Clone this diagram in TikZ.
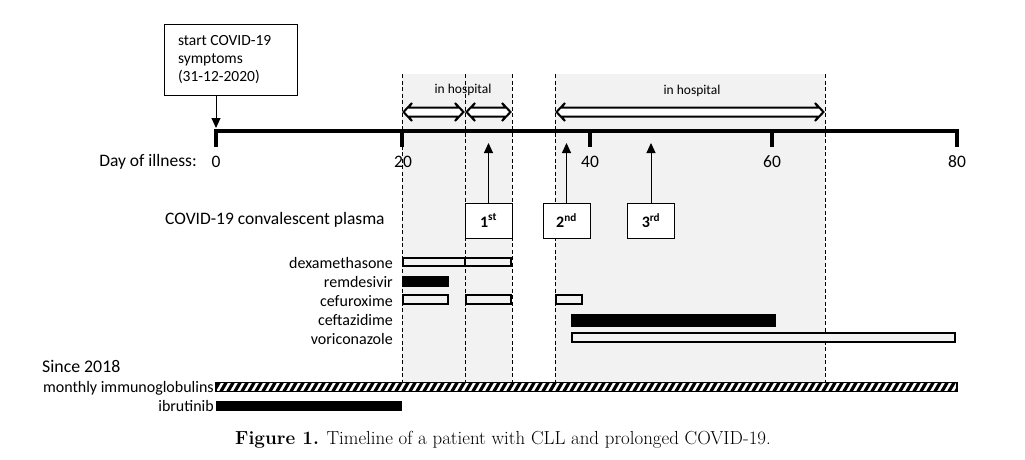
\documentclass[tikz,border=0pt]{standalone}
\usepackage{fontspec}
\newfontfamily\calibri{Carlito}
\usetikzlibrary{arrows.meta}
\begin{document}
\begin{tikzpicture}[x=1pt,y=-1pt,
  lbl/.style={font=\calibri\fontsize{17.5}{20}\selectfont, inner sep=0},
  drug/.style={font=\calibri\fontsize{16}{19}\selectfont, inner sep=0, anchor=east},
  hosplbl/.style={font=\calibri\fontsize{13.5}{16}\selectfont, inner sep=0},
  openbar/.style={draw=black, line width=2pt, fill=gray!10},
  solidbar/.style={fill=black},
  vdash/.style={dash pattern=on 4pt off 2.5pt, line width=0.9pt},
  ccpbox/.style={draw, line width=0.8pt, fill=white, minimum width=47pt, minimum height=35pt, inner sep=0, font=\calibri\bfseries\fontsize{16}{19}\selectfont},
  uparr/.style={line width=1pt, -{Triangle[length=10pt,width=9pt]}},
  hollowarr/.style={draw=black, fill=white, line width=2pt, line join=miter},
  startbox/.style={draw, line width=0.8pt, text width=105pt, align=flush left, inner xsep=14pt, minimum height=71pt, font=\calibri\fontsize{15.5}{18}\selectfont},
  tick/.style={line width=3.5pt}
]
\useasboundingbox (0,0) rectangle (1025,460);
% shading
\fill[gray!10] (402,74) rectangle (512,382);
\fill[gray!10] (555,74) rectangle (825,382);
% dashed lines
\foreach \x in {402,465,512,555,825} \draw[vdash] (\x,74) -- (\x,382);
% hospital arrows (hollow double-headed)
\foreach \a/\b in {402/465,465/512,555/825}
  \draw[hollowarr] (\a+1.5,112) -- (\a+10,103) -- (\a+6.5,107.5) -- (\b-6.5,107.5) -- (\b-10,103) -- (\b-1.5,112)
     -- (\b-10,121) -- (\b-6.5,116.5) -- (\a+6.5,116.5) -- (\a+10,121) -- cycle;
\node[hosplbl] (hl1) at (463,90) {in hospital};
\node[hosplbl] (hl2) at (692,91) {in hospital};
% axis
\coordinate (d0) at (216,131);
\coordinate (d20) at (402,131);
\coordinate (d40) at (590,131);
\coordinate (d60) at (772,131);
\coordinate (d80) at (957,131);
\draw[line width=4.4pt] (d0) -- (d80);
\foreach \x in {216,402,590,772,957} \draw[tick] (\x,129) -- (\x,147);
\node[lbl, anchor=east] (doi) at (197,162) {Day of illness:};
\node[lbl] (l0) at (216,162) {0};
\node[lbl] (l20) at (403,162) {20};
\node[lbl] (l40) at (590,162) {40};
\node[lbl] (l60) at (772,162) {60};
\node[lbl] (l80) at (957,162) {80};
% start box
\node[startbox] (start) at (230.5,59.5) {start COVID-19\\symptoms\\(31-12-2020)};
\coordinate (a0) at (216,128);
\draw[uparr] (start.south -| a0) -- (a0);
% CCP
\node[lbl, anchor=west] (ccp) at (165,220) {COVID-19 convalescent plasma};
\coordinate (tipy) at (0,143);
\node[ccpbox] (p1) at (488.5,220.5) {1\textsuperscript{st}};
\node[ccpbox] (p2) at (566.5,220.5) {2\textsuperscript{nd}};
\node[ccpbox] (p3) at (651,220.5) {3\textsuperscript{rd}};
\draw[uparr] (p1.north) -- (p1.north |- tipy);
\draw[uparr] (p2.north) -- (p2.north |- tipy);
\draw[uparr] (p3.north) -- (p3.north |- tipy);
% drugs
\node[drug] (dex) at (393,263) {dexamethasone};
\node[drug] (rem) at (393,282) {remdesivir};
\node[drug] (cef) at (393,301) {cefuroxime};
\node[drug] (cft) at (393,320) {ceftazidime};
\node[drug] (vor) at (393,339) {voriconazole};
\draw[openbar] (403,258) rectangle (464.5,266);
\draw[openbar] (464.5,258) rectangle (511,266);
\fill[solidbar] (402,276) rectangle (449,287);
\draw[openbar] (403,295) rectangle (448,304);
\draw[openbar] (466,295) rectangle (511,304);
\draw[openbar] (556,295) rectangle (582,304);
\fill[solidbar] (571,314) rectangle (776,327);
\draw[openbar] (572,333) rectangle (955,342);
% since 2018
\node[font=\calibri\fontsize{17.8}{20}\selectfont, inner sep=0, anchor=west] (since) at (42,366) {Since 2018};
\node[drug] (igl) at (214,388) {monthly immunoglobulins};
\begin{scope}
\clip (216,382.5) rectangle (957,391.5);
\fill[white] (216,382.5) rectangle (957,391.5);
\foreach \x in {206,213,...,960} \draw[line width=3.2pt] (\x,393) -- (\x+7,381);
\end{scope}
\draw[line width=1.3pt] (216,382.5) rectangle (957,391.5);
\node[drug] (ibr) at (214,406) {ibrutinib};
\fill[solidbar] (216,401) rectangle (402,411);
% caption
\node[font=\fontsize{18.9}{22}\selectfont, inner sep=0] (cap) at (503,440) {\textbf{Figure 1.} Timeline of a patient with CLL and prolonged COVID-19.};
\end{tikzpicture}
\end{document}
